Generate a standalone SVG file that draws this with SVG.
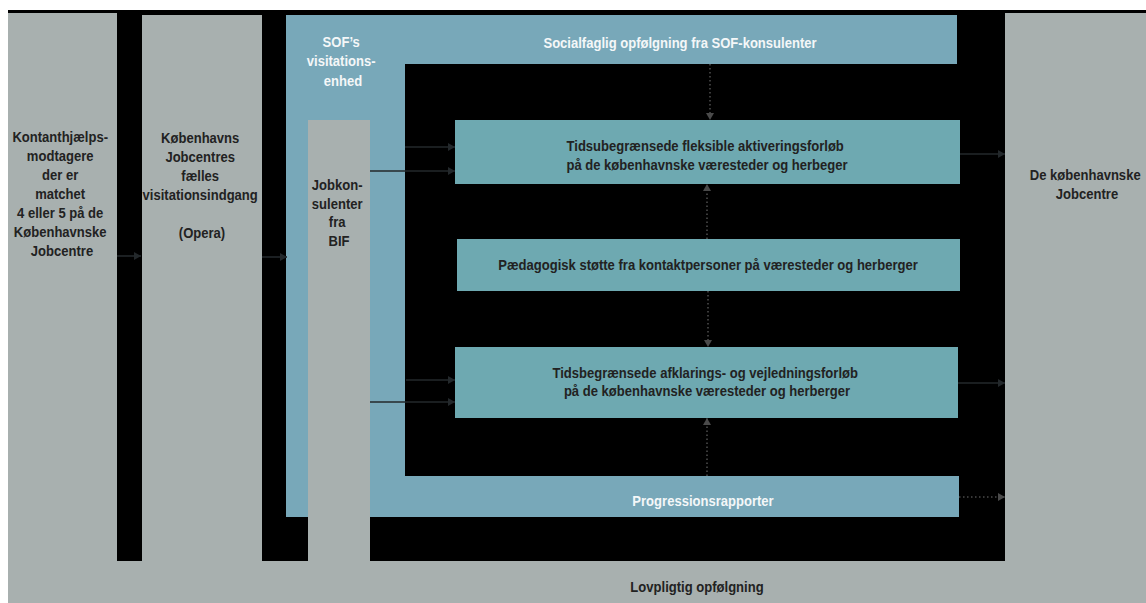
<svg xmlns="http://www.w3.org/2000/svg" width="1146" height="603" viewBox="0 0 1146 603">
<defs>
<style>
.gray{fill:#a8b0af}
.blue{fill:#78a8b9}
.teal{fill:#6ea9b1}
.t{font-family:"Liberation Sans",Arial,sans-serif;font-weight:bold;font-size:15px;text-anchor:middle}
.dark{fill:#222}
.light{fill:#f4f7f8}
.arrow{stroke:#23282b;stroke-width:1.6;fill:none;marker-end:url(#ah)}
.dots{stroke:#4a4a4a;stroke-width:1.6;fill:none;stroke-dasharray:1.5 2.5;marker-end:url(#ahd)}
</style>
<marker id="ah" markerUnits="userSpaceOnUse" markerWidth="8" markerHeight="8" refX="7" refY="4" orient="auto">
<path d="M0,0 L7,4 L0,8 z" fill="#23282b"/>
</marker>
<marker id="ahd" markerUnits="userSpaceOnUse" markerWidth="8" markerHeight="8" refX="7" refY="4" orient="auto">
<path d="M0,0 L7,4 L0,8 z" fill="#4a4a4a"/>
</marker>
</defs>
<rect x="0" y="0" width="1146" height="603" fill="#ffffff"/>
<rect x="8" y="10" width="1138" height="551" fill="#000000"/>

<g id="node-lovpligtig">
<rect class="gray" x="8" y="561" width="1138" height="42"/>
<text class="t dark" transform="translate(697 0) scale(0.87 1)"><tspan x="0" y="592">Lovpligtig opfølgning</tspan></text>
</g>

<g id="node-kontanthjaelp">
<rect class="gray" x="8" y="13" width="109" height="548"/>
<text class="t dark" transform="translate(62 0) scale(0.87 1)">
<tspan x="0" y="142">Kontanthjælps-</tspan>
<tspan x="0" y="161">modtagere</tspan>
<tspan x="0" y="180">der er</tspan>
<tspan x="0" y="199">matchet</tspan>
<tspan x="0" y="218">4 eller 5 på de</tspan>
<tspan x="0" y="237">Københavnske</tspan>
<tspan x="0" y="256">Jobcentre</tspan>
</text>
</g>

<g id="node-opera">
<rect class="gray" x="142" y="15" width="120" height="546"/>
<text class="t dark" transform="translate(202 0) scale(0.87 1)">
<tspan x="0" y="143">Københavns</tspan>
<tspan x="0" y="162">Jobcentres</tspan>
<tspan x="0" y="181">fælles</tspan>
<tspan x="0" y="200">visitationsindgang</tspan>
<tspan x="0" y="238">(Opera)</tspan>
</text>
</g>

<g id="node-sof-visitation">
<rect class="blue" x="286" y="15" width="119" height="502"/>
<text class="t light" transform="translate(343 0) scale(0.87 1)">
<tspan x="0" y="47">SOF’s</tspan>
<tspan x="0" y="66">visitations-</tspan>
<tspan x="0" y="86">enhed</tspan>
</text>
</g>

<g id="node-socialfaglig">
<rect class="blue" x="405" y="15" width="552" height="49"/>
<text class="t light" transform="translate(680 0) scale(0.87 1)"><tspan x="0" y="48">Socialfaglig opfølgning fra SOF-konsulenter</tspan></text>
</g>

<g id="node-progression">
<rect class="blue" x="405" y="476" width="554" height="41"/>
<text class="t light" transform="translate(703 0) scale(0.87 1)"><tspan x="0" y="506">Progressionsrapporter</tspan></text>
</g>

<g id="node-bif">
<rect class="gray" x="308" y="120" width="62" height="441"/>
<text class="t dark" transform="translate(339 0) scale(0.87 1)">
<tspan x="0" y="190">Jobkon-</tspan>
<tspan x="0" y="209">sulenter</tspan>
<tspan x="0" y="227">fra</tspan>
<tspan x="0" y="246">BIF</tspan>
</text>
</g>

<g id="node-aktivering">
<rect class="teal" x="455" y="120" width="505" height="64"/>
<text class="t dark" transform="translate(707 0) scale(0.87 1)">
<tspan x="0" y="151">Tidsubegrænsede fleksible aktiveringsforløb</tspan>
<tspan x="0" y="170">på de københavnske væresteder og herbeger</tspan>
</text>
</g>

<g id="node-paedagogisk">
<rect class="teal" x="457" y="239" width="503" height="52"/>
<text class="t dark" transform="translate(708 0) scale(0.87 1)"><tspan x="0" y="270">Pædagogisk støtte fra kontaktpersoner på væresteder og herberger</tspan></text>
</g>

<g id="node-afklaring">
<rect class="teal" x="455" y="347" width="503" height="71"/>
<text class="t dark" transform="translate(707 0) scale(0.87 1)">
<tspan x="0" y="378">Tidsbegrænsede afklarings- og vejledningsforløb</tspan>
<tspan x="0" y="396">på de københavnske væresteder og herberger</tspan>
</text>
</g>

<g id="node-jobcentre">
<rect class="gray" x="1005" y="13" width="141" height="590"/>
<text class="t dark" transform="translate(1087 0) scale(0.87 1)">
<tspan x="0" y="180">De københavnske</tspan>
<tspan x="0" y="199">Jobcentre</tspan>
</text>
</g>

<g id="connectors">
<path class="arrow" d="M117,256 L141,256"/>
<path class="arrow" d="M262,257 L287,257"/>
<path class="arrow" d="M405,147 L455,147"/>
<path class="arrow" d="M370,171 L455,171"/>
<path class="arrow" d="M406,380 L455,380"/>
<path class="arrow" d="M370,402 L455,402"/>
<path class="arrow" d="M960,154 L1005,154"/>
<path class="arrow" d="M958,383 L1005,383"/>
<path class="dots" d="M959,497 L1005,497"/>
<path class="dots" d="M710,64 L710,120"/>
<path class="dots" d="M707,239 L707,184"/>
<path class="dots" d="M708,291 L708,347"/>
<path class="dots" d="M707,476 L707,418"/>
</g>
</svg>
